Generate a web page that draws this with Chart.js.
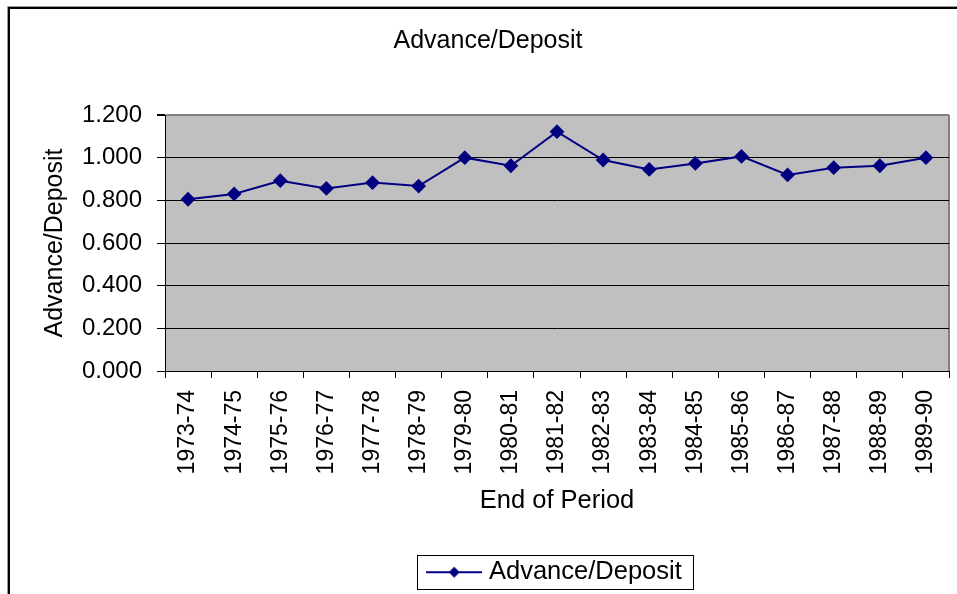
<!DOCTYPE html>
<html>
<head>
<meta charset="utf-8">
<script src="https://cdn.jsdelivr.net/npm/chart.js@4/dist/chart.umd.min.js"></script>
<style>
  html, body { margin: 0; padding: 0; background: #fff; }
  #wrap { width: 957px; height: 594px; }
</style>
</head>
<body>
<div id="wrap"><canvas id="ratioChart" width="957" height="594"></canvas></div>
<script>
const periods = ['1973-74', '1974-75', '1975-76', '1976-77', '1977-78', '1978-79', '1979-80', '1980-81', '1981-82',
  '1982-83', '1983-84', '1984-85', '1985-86', '1986-87', '1987-88', '1988-89', '1989-90'];
const ratios = [0.805, 0.830, 0.892, 0.856, 0.883, 0.867, 1.000, 0.962, 1.122,
  0.989, 0.945, 0.973, 1.006, 0.919, 0.953, 0.962, 1.000];
const seriesName = 'Advance/Deposit';
const navy = '#000080';
const fontFamily = '"Liberation Sans", Arial, sans-serif';

// legend marker: line with a diamond in the middle
const marker = document.createElement('canvas');
marker.width = 56;
marker.height = 14;
(function () {
  const m = marker.getContext('2d');
  m.strokeStyle = navy;
  m.lineWidth = 2;
  m.beginPath();
  m.moveTo(0, 7);
  m.lineTo(56, 7);
  m.stroke();
  m.fillStyle = navy;
  m.beginPath();
  m.moveTo(28, 1.5);
  m.lineTo(33.5, 7);
  m.lineTo(28, 12.5);
  m.lineTo(22.5, 7);
  m.closePath();
  m.fill();
})();

const framePlugin = {
  id: 'frame',
  beforeDraw(chart) {
    const { ctx, chartArea: a } = chart;
    ctx.save();
    ctx.fillStyle = '#fff';
    ctx.fillRect(0, 0, chart.width, chart.height);
    ctx.fillStyle = '#c0c0c0';
    ctx.fillRect(a.left, a.top, a.right - a.left, a.bottom - a.top);
    ctx.strokeStyle = '#808080';
    ctx.lineWidth = 2;
    ctx.beginPath();
    ctx.moveTo(a.right, a.top);
    ctx.lineTo(a.right, a.bottom);
    ctx.stroke();
    // outer chart border
    ctx.strokeStyle = '#999';
    ctx.lineWidth = 1;
    ctx.beginPath();
    ctx.moveTo(7.5, chart.height);
    ctx.lineTo(7.5, 6.5);
    ctx.lineTo(chart.width, 6.5);
    ctx.stroke();
    ctx.strokeStyle = '#000';
    ctx.lineWidth = 2;
    ctx.beginPath();
    ctx.moveTo(9, chart.height);
    ctx.lineTo(9, 8);
    ctx.lineTo(chart.width, 8);
    ctx.stroke();
    ctx.restore();
  },
  afterDraw(chart) {
    const box = chart.legend && chart.legend.legendHitBoxes[0];
    if (!box) return;
    const ctx = chart.ctx;
    const cy = box.top + box.height / 2;
    ctx.save();
    ctx.strokeStyle = '#000';
    ctx.lineWidth = 1;
    ctx.strokeRect(Math.round(box.left - 15) + 0.5, Math.round(cy - 17) + 0.5, Math.round(box.width + 26), 34);
    ctx.restore();
  }
};

new Chart(document.getElementById('ratioChart'), {
  type: 'line',
  data: {
    labels: periods,
    datasets: [{
      label: seriesName,
      data: ratios,
      borderColor: navy,
      backgroundColor: navy,
      borderWidth: 2,
      pointStyle: 'rectRot',
      pointRadius: 6,
      pointHoverRadius: 6,
      pointBackgroundColor: navy,
      pointBorderColor: navy,
      tension: 0
    }]
  },
  options: {
    responsive: false,
    animation: false,
    layout: { padding: { left: 27, right: 8, top: 0, bottom: -1 } },
    plugins: {
      title: {
        display: true,
        text: 'Advance/Deposit',
        color: '#000',
        font: { family: fontFamily, size: 25, weight: 'normal' },
        padding: { top: 26, bottom: 59 }
      },
      legend: {
        position: 'bottom',
        fullSize: false,
        labels: {
          color: '#000',
          font: { family: fontFamily, size: 25.5 },
          usePointStyle: true,
          pointStyleWidth: 44,
          padding: 10,
          generateLabels: (chart) => [{
            text: seriesName,
            pointStyle: marker,
            fillStyle: navy,
            strokeStyle: navy,
            lineWidth: 0,
            datasetIndex: 0
          }]
        }
      },
      tooltip: { enabled: false }
    },
    scales: {
      x: {
        type: 'category',
        offset: true,
        afterFit: (scale) => {
          scale.height = 178.5;
          scale.paddingLeft = 0;
          scale.paddingRight = 0;
        },
        grid: {
          display: true,
          offset: true,
          drawOnChartArea: false,
          drawTicks: true,
          tickLength: 7,
          color: '#000',
          tickColor: '#000'
        },
        border: { display: true, color: '#000', width: 1 },
        ticks: {
          color: '#000',
          font: { family: fontFamily, size: 23 },
          minRotation: 90,
          maxRotation: 90,
          autoSkip: false,
          padding: 12
        },
        title: {
          display: true,
          text: 'End of Period',
          color: '#000',
          font: { family: fontFamily, size: 25.5 },
          padding: { top: 0, bottom: 33 }
        }
      },
      y: {
        min: 0,
        max: 1.2,
        afterFit: (scale) => { scale.width = 138; },
        grid: {
          color: (ctx) => (ctx.tick && Math.abs(ctx.tick.value - 1.2) < 1e-6 ? '#808080' : '#000'),
          lineWidth: (ctx) => (ctx.tick && Math.abs(ctx.tick.value - 1.2) < 1e-6 ? 2 : 1),
          tickColor: '#000',
          tickLength: 8
        },
        border: { display: true, color: '#000', width: 1 },
        ticks: {
          stepSize: 0.2,
          color: '#000',
          font: { family: fontFamily, size: 24 },
          padding: 15,
          callback: (v) => Number(v).toFixed(3)
        },
        title: {
          display: true,
          text: 'Advance/Deposit',
          color: '#000',
          font: { family: fontFamily, size: 25 },
          padding: { top: 13, bottom: 0 }
        }
      }
    }
  },
  plugins: [framePlugin]
});
</script>
</body>
</html>
